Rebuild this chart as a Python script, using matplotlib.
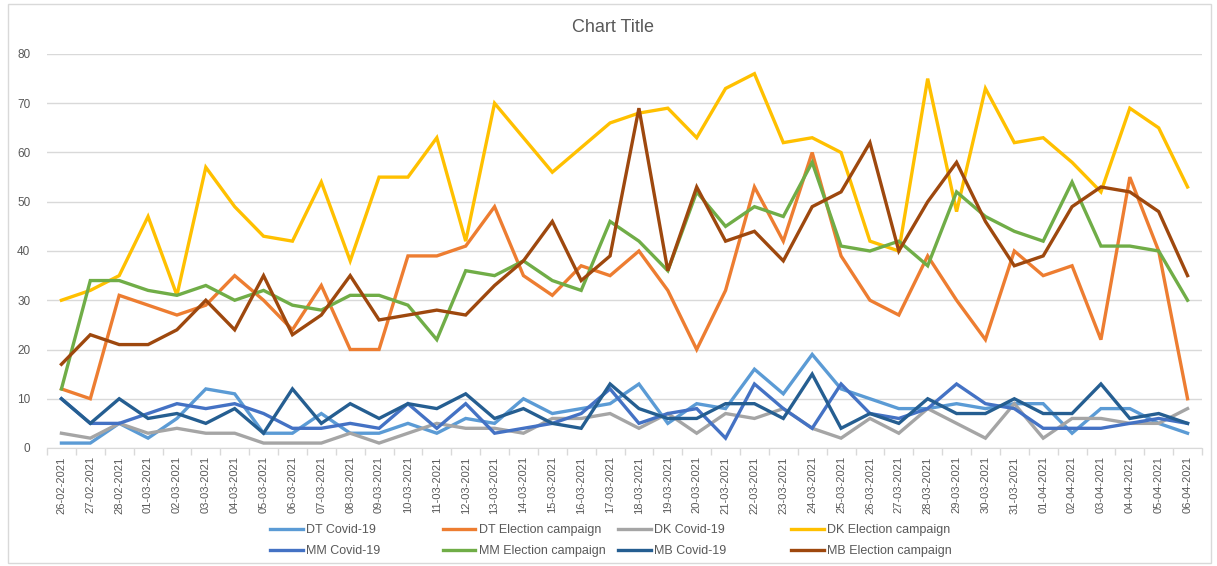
import matplotlib
matplotlib.use('Agg')
import matplotlib.pyplot as plt
from matplotlib.patches import Rectangle
from matplotlib.lines import Line2D

plt.rcParams['font.family'] = ['Liberation Sans', 'DejaVu Sans']

# --Datos
dates = ['26-02-2021', '27-02-2021', '28-02-2021',
         '01-03-2021', '02-03-2021', '03-03-2021', '04-03-2021', '05-03-2021',
         '06-03-2021', '07-03-2021', '08-03-2021', '09-03-2021', '10-03-2021',
         '11-03-2021', '12-03-2021', '13-03-2021', '14-03-2021', '15-03-2021',
         '16-03-2021', '17-03-2021', '18-03-2021', '19-03-2021', '20-03-2021',
         '21-03-2021', '22-03-2021', '23-03-2021', '24-03-2021', '25-03-2021',
         '26-03-2021', '27-03-2021', '28-03-2021', '29-03-2021', '30-03-2021',
         '31-03-2021', '01-04-2021', '02-04-2021', '03-04-2021', '04-04-2021',
         '05-04-2021', '06-04-2021']

dt_covid = [1, 1, 5, 2, 6, 12, 11, 3, 3, 7, 3, 3, 5, 3, 6, 5, 10, 7, 8, 9,
            13, 5, 9, 8, 16, 11, 19, 12, 10, 8, 8, 9, 8, 9, 9, 3, 8, 8, 5, 3]
dt_election = [12, 10, 31, 29, 27, 29, 35, 30, 24, 33, 20, 20, 39, 39, 41, 49, 35, 31, 37, 35,
               40, 32, 20, 32, 53, 42, 60, 39, 30, 27, 39, 30, 22, 40, 35, 37, 22, 55, 40, 10]
dk_covid = [3, 2, 5, 3, 4, 3, 3, 1, 1, 1, 3, 1, 3, 5, 4, 4, 3, 6, 6, 7,
            4, 7, 3, 7, 6, 8, 4, 2, 6, 3, 8, 5, 2, 9, 2, 6, 6, 5, 5, 8]
dk_election = [30, 32, 35, 47, 31, 57, 49, 43, 42, 54, 38, 55, 55, 63, 42, 70, 63, 56, 61, 66,
               68, 69, 63, 73, 76, 62, 63, 60, 42, 40, 75, 48, 73, 62, 63, 58, 52, 69, 65, 53]
mm_covid = [10, 5, 5, 7, 9, 8, 9, 7, 4, 4, 5, 4, 9, 4, 9, 3, 4, 5, 7, 12,
            5, 7, 8, 2, 13, 8, 4, 13, 7, 6, 8, 13, 9, 8, 4, 4, 4, 5, 6, 5]
mm_election = [12, 34, 34, 32, 31, 33, 30, 32, 29, 28, 31, 31, 29, 22, 36, 35, 38, 34, 32, 46,
               42, 36, 52, 45, 49, 47, 58, 41, 40, 42, 37, 52, 47, 44, 42, 54, 41, 41, 40, 30]
mb_covid = [10, 5, 10, 6, 7, 5, 8, 3, 12, 5, 9, 6, 9, 8, 11, 6, 8, 5, 4, 13,
            8, 6, 6, 9, 9, 6, 15, 4, 7, 5, 10, 7, 7, 10, 7, 7, 13, 6, 7, 5]
mb_election = [17, 23, 21, 21, 24, 30, 24, 35, 23, 27, 35, 26, 27, 28, 27, 33, 38, 46, 34, 39,
               69, 36, 53, 42, 44, 38, 49, 52, 62, 40, 50, 58, 46, 37, 39, 49, 53, 52, 48, 35]

series = [('DT Covid-19', dt_covid, '#5B9BD5'),
          ('DT Election campaign', dt_election, '#ED7D31'),
          ('DK Covid-19', dk_covid, '#A5A5A5'),
          ('DK Election campaign', dk_election, '#FFC000'),
          ('MM Covid-19', mm_covid, '#4472C4'),
          ('MM Election campaign', mm_election, '#70AD47'),
          ('MB Covid-19', mb_covid, '#255E91'),
          ('MB Election campaign', mb_election, '#9E480E')]

W, H = 1217, 566
fig = plt.figure(figsize=(W / 100, H / 100), dpi=100)
ax = fig.add_axes([47 / W, 1 - 448 / H, (1202 - 47) / W, (448 - 54) / H])

x = list(range(len(dates)))
for name, vals, col in series:
    ax.plot(x, vals, color=col, lw=2.4, solid_joinstyle='miter', label=name)

txt = '#595959'
grid = '#D9D9D9'
ax.set_xlim(-0.5, len(dates) - 0.5)
ax.set_ylim(0, 80)
ax.set_yticks(range(0, 81, 10))
ax.yaxis.grid(True, color=grid, lw=1)
ax.set_axisbelow(True)
for s in ['top', 'right', 'left']:
    ax.spines[s].set_visible(False)
ax.spines['bottom'].set_color(grid)
ax.tick_params(axis='y', length=0, pad=12, labelsize=8.5, labelcolor=txt)
ax.set_xticks(x)
ax.set_xticklabels(dates, rotation=90, fontsize=8, color=txt)
ax.tick_params(axis='x', which='major', length=0, pad=6)
ax.set_xticks([i - 0.5 for i in range(len(dates) + 1)], minor=True)
ax.tick_params(axis='x', which='minor', length=5, color=grid, width=1)

fig.text(613 / W, 1 - 28 / H, 'Chart Title', ha='center', va='center', fontsize=13, color=txt)

# --Leyenda en 4 columnas
col_x = [270, 443, 618, 791]
handles = [Line2D([], [], color=c, lw=2.4) for _, _, c in series]
names = [n for n, _, _ in series]
for i in range(4):
    idx = [i, i + 4]
    leg = fig.legend([handles[j] for j in idx], [names[j] for j in idx],
                     loc='upper left', bbox_to_anchor=(col_x[i] / W, 1 - 524 / H),
                     frameon=False, fontsize=9, handlelength=2.6, handletextpad=0.25,
                     borderpad=0, borderaxespad=0, labelspacing=0.75, labelcolor=txt)

fig.patches.append(Rectangle((8 / W, 3 / H), (1211 - 8) / W, (562 - 3) / H,
                             transform=fig.transFigure, fill=False, edgecolor=grid, lw=1))

fig.savefig('out.png', dpi=100)
